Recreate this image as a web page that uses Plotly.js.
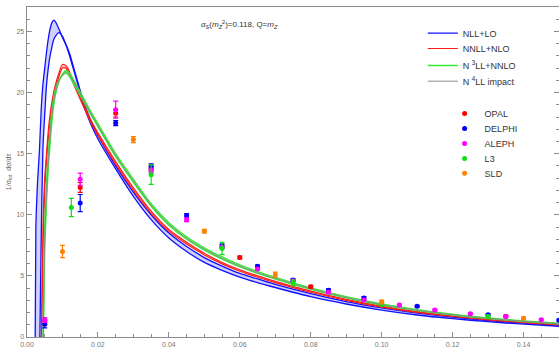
<!DOCTYPE html>
<html><head><meta charset="utf-8">
<script src="https://cdn.plot.ly/plotly-3.0.1.min.js"></script>
<style>html,body{margin:0;padding:0;background:#fff}</style>
</head><body><div id="chart" style="width:559px;height:347px"></div>
<script>
// thrust grid
const tau = [0.002,0.0025,0.003,0.0035,0.004,0.0045,0.005,0.0055,0.006,0.0065,0.007,0.0075,0.008,0.009,0.010,0.011,0.012,0.013,0.014,0.016,0.018,0.020,0.025,0.030,0.035,0.040,0.045,0.050,0.055,0.060,0.065,0.070,0.080,0.090,0.100,0.110,0.120,0.130,0.140,0.150];
// NLL+LO band
const nllUpper = [-15,9,12.8,15.2,18.6,20.7,22.0,23.3,24.4,25.2,25.7,25.9,25.8,25.2,24.5,23.9,23.2,22.2,21.2,19.2,17.7,16.5,14.0,11.85,10.0,8.5,7.4,6.5,5.8,5.2,4.75,4.3,3.55,2.9,2.38,1.96,1.62,1.35,1.13,0.95];
const nllLower = [null,null,null,-3,8,15.5,18.2,20.6,22.0,23.0,23.7,24.3,24.6,24.9,24.6,23.9,23.0,22.0,21.0,18.95,17.4,16.2,13.75,11.5,9.6,8.1,7.0,6.1,5.45,4.9,4.45,4.05,3.3,2.7,2.2,1.8,1.5,1.25,1.05,0.88];
// NNLL+NLO band
const nnllUpper = [null,null,null,null,-1,9,13,15,16.9,18.2,19.2,20.0,20.6,21.6,22.3,22.2,21.7,21.0,20.3,19.0,17.75,16.7,14.35,12.2,10.3,8.8,7.75,6.85,6.1,5.5,5.0,4.55,3.75,3.08,2.52,2.08,1.73,1.45,1.22,1.03];
const nnllLower = [null,null,null,null,-2,7,12,14.4,16.2,17.6,18.7,19.5,20.2,21.3,22.0,22.0,21.5,20.8,20.1,18.8,17.55,16.5,14.15,12.0,10.12,8.64,7.6,6.71,5.98,5.38,4.89,4.45,3.66,3.0,2.45,2.02,1.68,1.4,1.18,0.99];
// N3LL+NNLO band
const n3llUpper = [null,null,null,null,null,-2,7,11,13.8,15.8,17.6,18.9,19.8,20.9,21.5,21.8,21.6,21.1,20.6,19.5,18.45,17.45,15.0,12.9,10.9,9.35,8.2,7.3,6.55,5.9,5.35,4.88,4.02,3.3,2.7,2.24,1.86,1.56,1.32,1.12];
const n3llLower = [null,null,null,null,null,-1,9,12.5,15.0,16.8,18.4,19.5,20.2,21.0,21.4,21.6,21.3,20.8,20.3,19.25,18.2,17.2,14.75,12.65,10.7,9.15,8.0,7.1,6.37,5.73,5.2,4.74,3.9,3.2,2.61,2.16,1.79,1.5,1.27,1.08];
// N4LL impact
const n4ll = [null,null,null,null,null,-1.5,8,11.8,14.4,16.3,18.0,19.2,20.0,20.95,21.45,21.7,21.45,20.95,20.45,19.35,18.3,17.3,14.85,12.75,10.78,9.22,8.08,7.18,6.44,5.8,5.26,4.8,3.95,3.24,2.65,2.19,1.82,1.52,1.29,1.1];

// data
const opalTau = [0.005,0.015,0.025,0.035,0.06,0.08,0.135];
const opalVal = [1.2,12.24,18.3,13.8,6.5,4.12,1.7];
const opalErr = [0.2,0.4,0.3,0.2,0.12,0.1,0.08];
const delphiTau = [0.005,0.015,0.025,0.035,0.045,0.055,0.065,0.075,0.085,0.095,0.11,0.13,0.15];
const delphiVal = [1.05,10.96,17.5,13.96,9.94,7.46,5.79,4.67,3.83,3.2,2.51,1.83,1.38];
const delphiErr = [0.3,0.7,0.2,0.2,0.15,0.15,0.1,0.1,0.1,0.1,0.08,0.08,0.08];
const alephTau = [0.005,0.015,0.025,0.035,0.045,0.055,0.065,0.075,0.085,0.095,0.105,0.115,0.125,0.135,0.145];
const alephVal = [1.39,12.9,18.6,13.6,9.59,7.35,5.57,4.6,3.66,3.03,2.62,2.21,1.91,1.67,1.42];
const alephErr = [0.2,0.5,0.7,0.2,0.15,0.1,0.1,0.1,0.08,0.08,0.08,0.07,0.07,0.07,0.07];
const l3Tau = [0.0125,0.035,0.055,0.075,0.1,0.13];
const l3Val = [10.6,13.28,7.24,4.43,2.68,1.67];
const l3Err = [0.75,0.8,0.5,0.25,0.15,0.1];
const sldTau = [0.01,0.03,0.05,0.07,0.1,0.14];
const sldVal = [7.0,16.15,8.66,5.1,2.87,1.53];
const sldErr = [0.5,0.25,0.15,0.2,0.15,0.1];

const C = {nll:'#1010ff', nnll:'#ff1a1a', n3ll:'#33ee33', n4ll:'#8c8c8c',
  opal:'#ff0000', delphi:'#0000ff', aleph:'#ff00ff', l3:'#11dd11', sld:'#ff8000'};

function pick(x, y){ const px=[],py=[]; x.forEach((v,i)=>{ if(y[i]!==null){px.push(v);py.push(y[i]);} }); return [px,py]; }
function band(x, hi, lo, color){
  const [hx,hy]=pick(x,hi), [lx,ly]=pick(x,lo);
  return {x: hx.concat(lx.slice().reverse()), y: hy.concat(ly.slice().reverse()),
    type:'scatter', mode:'lines', fill:'toself', fillcolor:color, line:{width:0},
    hoverinfo:'skip', showlegend:false};
}
function curve(x, y, color, w, name, leg){
  const [px,py]=pick(x,y);
  const t = {x:px, y:py, type:'scatter', mode:'lines', name:name, showlegend:!!leg,
    line:{color:color, width:w, shape:'spline', smoothing:0.7}};
  if (leg) t.legend = leg;
  return t;
}
function pts(x, y, e, color, name, leg){
  return {x:x, y:y, type:'scatter', mode:'markers', name:name, legend:leg,
    marker:{color:color, size:5},
    error_y:{type:'data', array:e, visible:true, color:color, thickness:1.2, width:2.5}};
}

const traces = [
  band(tau, nllUpper, nllLower, 'rgba(90,90,255,0.28)'),
  band(tau, nnllUpper, nnllLower, 'rgba(255,90,90,0.3)'),
  band(tau, n3llUpper, n3llLower, 'rgba(80,235,80,0.35)'),
  curve(tau, nllUpper, C.nll, 1.3, 'NLL+LO', 'legend'),
  curve(tau, nllLower, C.nll, 1.3, 'NLL+LO', null),
  curve(tau, nnllUpper, C.nnll, 1.2, 'NNLL+NLO', 'legend2'),
  curve(tau, nnllLower, C.nnll, 1.2, 'NNLL+NLO', null),
  curve(tau, n3llUpper, C.n3ll, 1.4, 'N <sup>3</sup>LL+NNLO', 'legend3'),
  curve(tau, n3llLower, C.n3ll, 1.4, 'N <sup>3</sup>LL+NNLO', null),
  curve(tau, n4ll, C.n4ll, 1.0, 'N <sup>4</sup>LL impact', 'legend4'),
  pts(opalTau, opalVal, opalErr, C.opal, 'OPAL', 'legend5'),
  pts(delphiTau, delphiVal, delphiErr, C.delphi, 'DELPHI', 'legend6'),
  pts(alephTau, alephVal, alephErr, C.aleph, 'ALEPH', 'legend7'),
  pts(l3Tau, l3Val, l3Err, C.l3, 'L3', 'legend8'),
  pts(sldTau, sldVal, sldErr, C.sld, 'SLD', 'legend9')
];

const axisCommon = {showgrid:false, zeroline:false, showline:true, linecolor:'#8c8c8c', linewidth:1.4,
  ticks:'inside', ticklen:5, tickwidth:1, tickcolor:'#8c8c8c',
  tickfont:{size:7, color:'#777', family:'Liberation Sans, Arial, sans-serif'}};

const layout = {
  width:559, height:347, margin:{l:27, r:0, t:7, b:10}, paper_bgcolor:'#fff', plot_bgcolor:'#fff',
  font:{family:'Liberation Sans, Arial, sans-serif', color:'#333'},
  xaxis: Object.assign({}, axisCommon, {range:[0,0.15], tick0:0, dtick:0.02, tickformat:'.2f', mirror:true,
    minor:{dtick:0.005, ticks:'inside', ticklen:3, tickcolor:'#8c8c8c', showgrid:false}}),
  xaxis2: Object.assign({}, axisCommon, {range:[0,0.15], tick0:0, dtick:0.025, overlaying:'x', side:'top',
    showticklabels:false, showline:false, anchor:'y',
    minor:{dtick:0.005, ticks:'inside', ticklen:3, tickcolor:'#8c8c8c', showgrid:false}}),
  yaxis: Object.assign({}, axisCommon, {range:[0,27], tick0:0, dtick:5, mirror:'allticks',
    minor:{dtick:1, ticks:'inside', ticklen:3, tickcolor:'#8c8c8c', showgrid:false},
    title:{text:'1/σ<sub>tot</sub>  dσ/dτ', font:{size:7, color:'#666'}, standoff:4}}),
  showlegend:true,
  annotations:[{xref:'x', yref:'y', x:0.060, y:25.55, yanchor:'middle', showarrow:false,
    text:'<i>α<sub>S</sub></i>(<i>m<sub>Z</sub></i><sup>2</sup>)=0.118, Q=<i>m<sub>Z</sub></i>',
    font:{size:8, color:'#333'}}]
};

// one legend box per entry, placed where the reference lists them
const legendCentersPx = [33.7, 49, 66, 81.7, 114, 129, 144, 159, 173.7];
legendCentersPx.forEach((c, i) => {
  const key = i === 0 ? 'legend' : 'legend' + (i + 1);
  layout[key] = {x: i < 4 ? 0.744 : 0.785, y: 1 - (c - 15 - 7) / 330, xanchor:'left', yanchor:'top',
    bgcolor:'rgba(0,0,0,0)', font:{size:9, color:'#333'}, tracegroupgap:0, itemwidth:30};
});

Plotly.newPlot('chart', traces, layout, {displayModeBar:false, staticPlot:true});
</script></body></html>
